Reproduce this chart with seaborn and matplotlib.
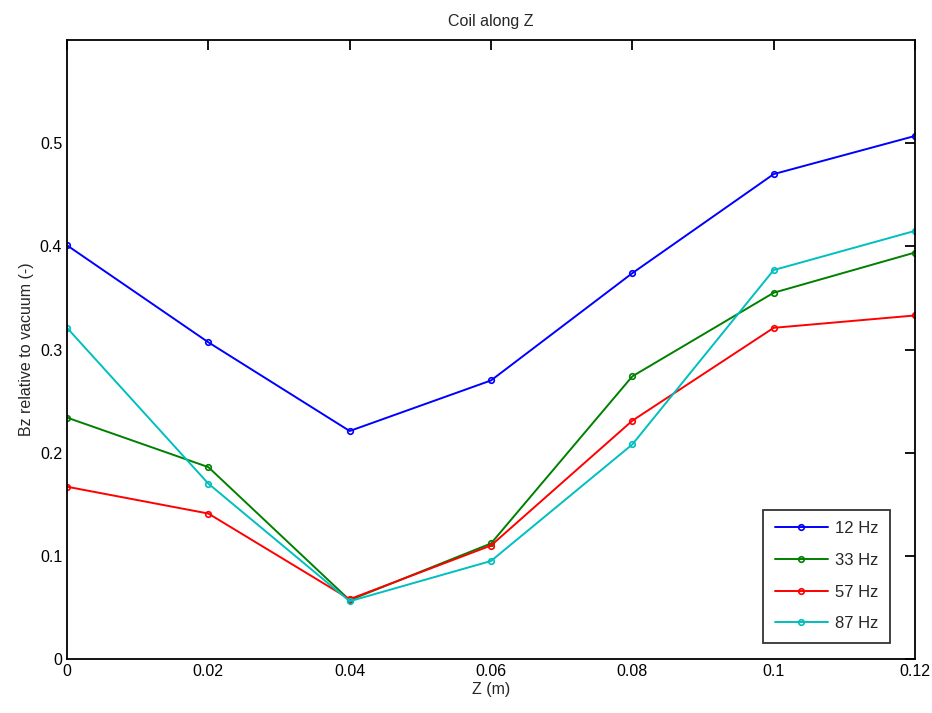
import matplotlib
matplotlib.use("Agg")
import matplotlib.pyplot as plt
import seaborn as sns
import pandas as pd

z = [0, 0.02, 0.04, 0.06, 0.08, 0.10, 0.12]
hz12 = [0.401, 0.307, 0.221, 0.270, 0.374, 0.470, 0.507]
hz33 = [0.234, 0.186, 0.057, 0.112, 0.274, 0.355, 0.394]
hz57 = [0.167, 0.141, 0.058, 0.110, 0.231, 0.321, 0.333]
hz87 = [0.321, 0.170, 0.056, 0.095, 0.208, 0.377, 0.415]
labels = ["12 Hz", "33 Hz", "57 Hz", "87 Hz"]
colors = ["#0000ff", "#008000", "#ff0000", "#00bfbf"]

rows = []
for lab, vals in zip(labels, [hz12, hz33, hz57, hz87]):
    for x, v in zip(z, vals):
        rows.append({"Z": x, "B": v, "series": lab})
df = pd.DataFrame(rows)

sns.set_style("white")
plt.rcParams['font.family'] = ['Liberation Sans', 'DejaVu Sans']

fig = plt.figure(figsize=(9.32, 7.13), dpi=100)
ax = fig.add_axes([67/932, 54/713, 848/932, 619/713])
sns.lineplot(data=df, x="Z", y="B", hue="series", palette=colors, marker="o",
             markersize=4, markerfacecolor="none", markeredgewidth=1.2,
             linewidth=1.4, ax=ax)
for ln, c in zip(ax.lines, colors):
    ln.set_markeredgecolor(c)

ax.set_xlim(0, 0.12)
ax.set_ylim(0, 0.6)
ax.set_xticks(z)
ax.set_xticklabels(["0", "0.02", "0.04", "0.06", "0.08", "0.1", "0.12"])
ax.set_yticks([0, 0.1, 0.2, 0.3, 0.4, 0.5])
ax.set_yticklabels(["0", "0.1", "0.2", "0.3", "0.4", "0.5"])
ax.tick_params(direction="in", length=7, width=1.3, top=True, right=True,
               labelsize=11.5, colors="black")
for s in ax.spines.values():
    s.set_visible(True)
    s.set_color("black")
    s.set_linewidth(1.3)
ax.set_xlabel("Z (m)", fontsize=11.5, labelpad=2)
ax.set_ylabel("Bz relative to vacuum (-)", fontsize=11.5)
ax.set_title("Coil along Z", fontsize=11.5, pad=10)

h, l = ax.get_legend_handles_labels()
for hh, c in zip(h, colors):
    hh.set_markeredgecolor(c)
    hh.set_markerfacecolor("none")
leg = ax.legend(h, l, loc="lower right", bbox_to_anchor=(0.9705, 0.026),
                fontsize=12, frameon=True, fancybox=False, edgecolor="black",
                handlelength=3.2, handletextpad=0.4, borderpad=0.7,
                labelspacing=1.0, borderaxespad=0)
leg.get_frame().set_linewidth(1.3)

fig.savefig("out.png", dpi=100, facecolor="white")
